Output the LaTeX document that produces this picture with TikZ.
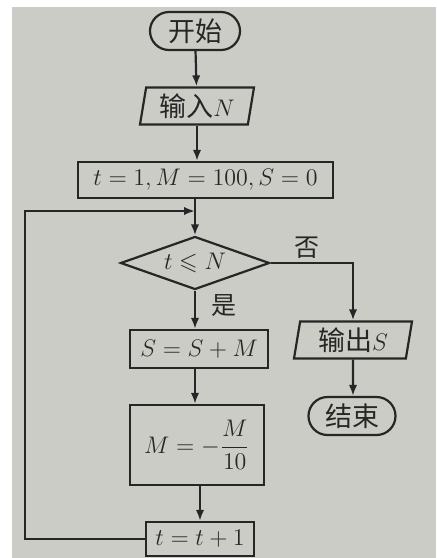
\documentclass[tikz,border=0pt]{standalone}
\usepackage{amsmath,amssymb}
\usepackage{fontspec}
\newfontfamily\cjk{Noto Sans CJK SC}
\usetikzlibrary{shapes.geometric, shapes.misc, arrows.meta}
\definecolor{paper}{RGB}{204,204,198}
\definecolor{ink}{RGB}{38,38,38}

\begin{document}
\begin{tikzpicture}[x=0.5pt, y=-0.5pt]
% Définition des styles
\tikzset{
base/.style={draw=ink, line width=1.1pt, inner sep=1pt, text=ink, font=\fontsize{12}{14}\selectfont},
term/.style={base, rounded rectangle, minimum width=47pt, minimum height=19pt},
io/.style={base, trapezium, trapezium left angle=78, trapezium right angle=102, trapezium stretches body, minimum height=18.5pt},
stepbox/.style={base, rectangle},
test/.style={base, diamond, aspect=2.8, inner sep=0pt, minimum width=74.5pt, minimum height=26.5pt},
tag/.style={text=ink, font=\cjk\fontsize{12.5}{14}\selectfont},
flow/.style={draw=ink, line width=1.1pt, -{Latex[length=5.5pt,width=4.2pt]}}
}
\newcommand\zh[1]{{\cjk\fontsize{13.5}{14}\selectfont #1}}
% Fond
\useasboundingbox (0,0) rectangle (436,558);
\fill[paper] (12,7) rectangle (436,558);
% Début
\node[term] (start) at (195,31) {\zh{开始}};
% Entrée
\node[io, minimum width=57pt] (input) at (197,106) {\zh{输入}$N$};
% Initialisation
\node[stepbox, minimum width=127.5pt, minimum height=18pt] (init) at (205.5,180) {$t=1,M=100,S=0$};
\coordinate (merge) at (195,211);
% Test
\node[test] (cond) at (195,263) {$t\leqslant N$};
\node[tag] (no) at (307,248) {否};
\node[tag] (yes) at (224,306) {是};
% Somme
\node[stepbox, minimum width=69pt, minimum height=19pt] (sum) at (199,349) {$S=S+M$};
% Mise à jour de M
\node[stepbox, minimum width=67pt, minimum height=40pt] (upd) at (197,445) {$M=-\dfrac{M}{10}$};
% Incrément
\node[stepbox, minimum width=54pt, minimum height=17pt] (inc) at (200,539) {$t=t+1$};
% Sortie
\node[io, minimum width=59pt] (output) at (353,340) {\zh{输出}$S$};
% Fin
\node[term, minimum width=45.5pt] (stop) at (352,416) {\zh{结束}};
\coordinate (corner) at (25,211);
% Flèches
\draw[flow] (start) -- (input);
\draw[flow] (input.south) -- (input.south |- init.north);
\draw[flow] (init.south -| merge) -- (cond.north);
\draw[flow] (cond.south) -- (cond.south |- sum.north);
\draw[flow] (sum.south -| cond.south) -- (cond.south |- upd.north);
\draw[flow] (upd.south -| inc.north) -- (inc.north);
\draw[flow] (cond.east) -| (output.north);
\draw[flow] (output) -- (output |- stop.north);
\draw[flow] (inc.west) -| (corner) -- (merge);
\end{tikzpicture}
\end{document}
